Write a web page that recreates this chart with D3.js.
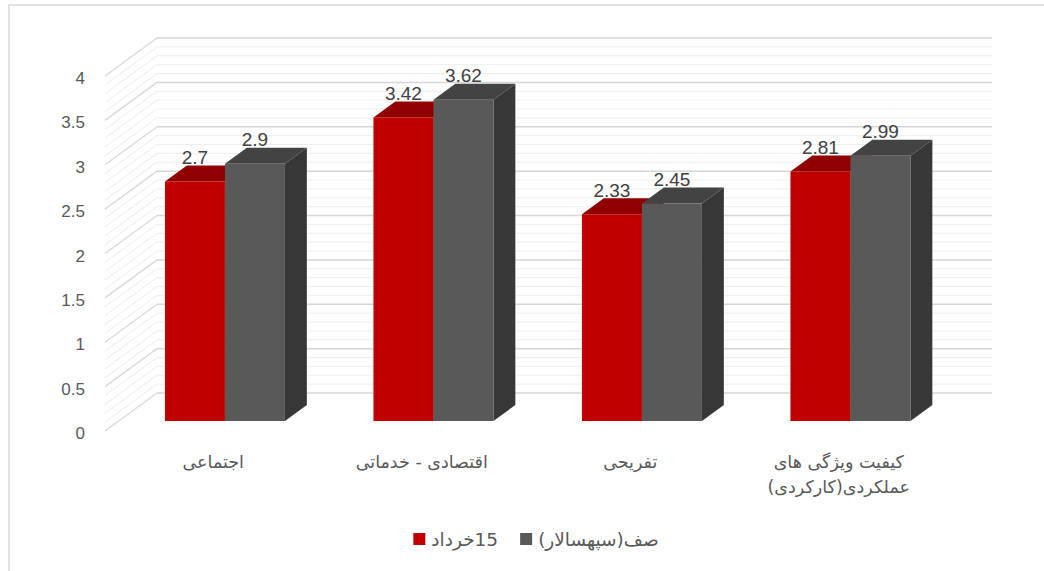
<!DOCTYPE html>
<html>
<head>
<meta charset="utf-8">
<script src="https://cdn.jsdelivr.net/npm/d3@7"></script>
<style>
  html, body { margin: 0; padding: 0; background: #fff; }
  svg { display: block; }
</style>
</head>
<body>
<svg id="chart" width="1044" height="571"></svg>
<script>
// ---- data ----
const categories = [
  ["اجتماعی"],
  ["اقتصادی - خدماتی"],
  ["تفریحی"],
  ["کیفیت ویژگی های", "عملکردی(کارکردی)"]
];
const seriesNames = ["15خرداد", "صف(سپهسالار)"];
const series1 = [2.7, 3.42, 2.33, 2.81];
const series2 = [2.9, 3.62, 2.45, 2.99];
const tickValues = [0, 0.5, 1, 1.5, 2, 2.5, 3, 3.5, 4];

// ---- styles ----
const frontColors = ["#C00000", "#595959"];
const topColors = ["#900000", "#434343"];
const sideColors = ["#7a0000", "#373737"];

const svg = d3.select("#chart");

// chart border
svg.append("rect").attr("x", 9).attr("y", 5).attr("width", 1100).attr("height", 600)
  .attr("fill", "none").attr("stroke", "#d9d9d9").attr("stroke-width", 1.5);

const catKeys = categories.map((c, i) => "c" + i);
const y = d3.scaleLinear().domain([0, 4]).range([431, 76]);
const x = d3.scaleBand().domain(catKeys).range([107, 941]).paddingInner(0.4245).paddingOuter(0.21225);
const xs = d3.scaleBand().domain(seriesNames).range([0, x.bandwidth()]);

const WALL_DX = 52, WALL_DY = 38;      // depth of the floor
const BAR_F = { dx: 13.7, dy: 10 };     // front of bars
const BAR_B = { dx: 35.6, dy: 26 };     // back of bars
const wallLeft = 105, wallRight = 940;

// gridlines
const gridG = svg.append("g");
const minor = y.ticks(40);
const majorSet = new Set(tickValues.map(v => v.toFixed(2)));
minor.forEach(v => {
  const isMajor = majorSet.has(v.toFixed(2));
  const yy = y(v);
  gridG.append("line")
    .attr("x1", wallLeft).attr("y1", yy).attr("x2", wallLeft + WALL_DX).attr("y2", yy - WALL_DY)
    .attr("stroke", isMajor ? "#d9d9d9" : "#ececec").attr("stroke-width", isMajor ? 1.3 : 1);
  gridG.append("line")
    .attr("x1", wallLeft + WALL_DX).attr("y1", yy - WALL_DY).attr("x2", wallRight + WALL_DX).attr("y2", yy - WALL_DY)
    .attr("stroke", isMajor ? "#d6d6d6" : "#eeeeee").attr("stroke-width", isMajor ? 1.5 : 1);
});

// y tick labels
svg.append("g").selectAll("text").data(tickValues).join("text")
  .attr("x", 85).attr("y", d => y(d) + 8)
  .attr("text-anchor", "end")
  .attr("font-family", "Liberation Sans, Arial, sans-serif")
  .attr("font-size", 17).attr("fill", "#595959")
  .text(d => d);

// bars
const P = (xx, v, o) => [xx + o.dx, y(v) - o.dy];
const barsG = svg.append("g");
const allSeries = [series1, series2];
categories.forEach((c, i) => {
  allSeries.forEach((vals, s) => {
    const v = vals[i];
    const x0 = x(catKeys[i]) + xs(seriesNames[s]);
    const w = xs.bandwidth();
    const g = barsG.append("g");
    const front = [P(x0, v, BAR_F), P(x0 + w, v, BAR_F), P(x0 + w, 0, BAR_F), P(x0, 0, BAR_F)];
    const top = [P(x0, v, BAR_F), P(x0 + w, v, BAR_F), P(x0 + w, v, BAR_B), P(x0, v, BAR_B)];
    const side = [P(x0 + w, v, BAR_F), P(x0 + w, 0, BAR_F), P(x0 + w, 0, BAR_B), P(x0 + w, v, BAR_B)];
    g.append("polygon").attr("points", side.join(" ")).attr("fill", sideColors[s]);
    g.append("polygon").attr("points", top.join(" ")).attr("fill", topColors[s]);
    g.append("polygon").attr("points", front.join(" ")).attr("fill", frontColors[s]);
    // data label
    const topBack = P(x0, v, BAR_B)[1];
    g.append("text")
      .attr("x", x0 + BAR_F.dx + w / 2).attr("y", topBack - 1.5)
      .attr("text-anchor", "middle")
      .attr("font-family", "Liberation Sans, Arial, sans-serif")
      .attr("font-size", 19).attr("fill", "#404040")
      .text(v);
  });
});

// category labels
const catG = svg.append("g");
categories.forEach((lines, i) => {
  const cx = x(catKeys[i]) + x.bandwidth() / 2 + 2;
  lines.forEach((ln, k) => {
    catG.append("text")
      .attr("x", cx).attr("y", 468 + k * 25)
      .attr("text-anchor", "middle")
      .attr("direction", "rtl")
      .attr("font-family", "DejaVu Sans, sans-serif")
      .attr("font-size", 17.5).attr("fill", "#595959")
      .text(ln);
  });
});

// legend
const legG = svg.append("g");
const items = seriesNames.map((name, s) => {
  const t = legG.append("text")
    .attr("direction", "rtl")
    .attr("text-anchor", "middle")
    .attr("font-family", "DejaVu Sans, sans-serif")
    .attr("font-size", 18.5).attr("fill", "#595959")
    .attr("y", 546)
    .text(name);
  return { t, w: t.node().getComputedTextLength(), s };
});
const sq = 12, gap1 = 6, gap2 = 22;
const total = items.reduce((a, it) => a + sq + gap1 + it.w, 0) + gap2 * (items.length - 1);
let lx = 536 - total / 2;
items.forEach(it => {
  legG.append("rect").attr("x", lx).attr("y", 533).attr("width", sq).attr("height", sq)
    .attr("fill", frontColors[it.s]);
  lx += sq + gap1;
  it.t.attr("x", lx + it.w / 2);
  lx += it.w + gap2;
});
</script>
</body>
</html>
